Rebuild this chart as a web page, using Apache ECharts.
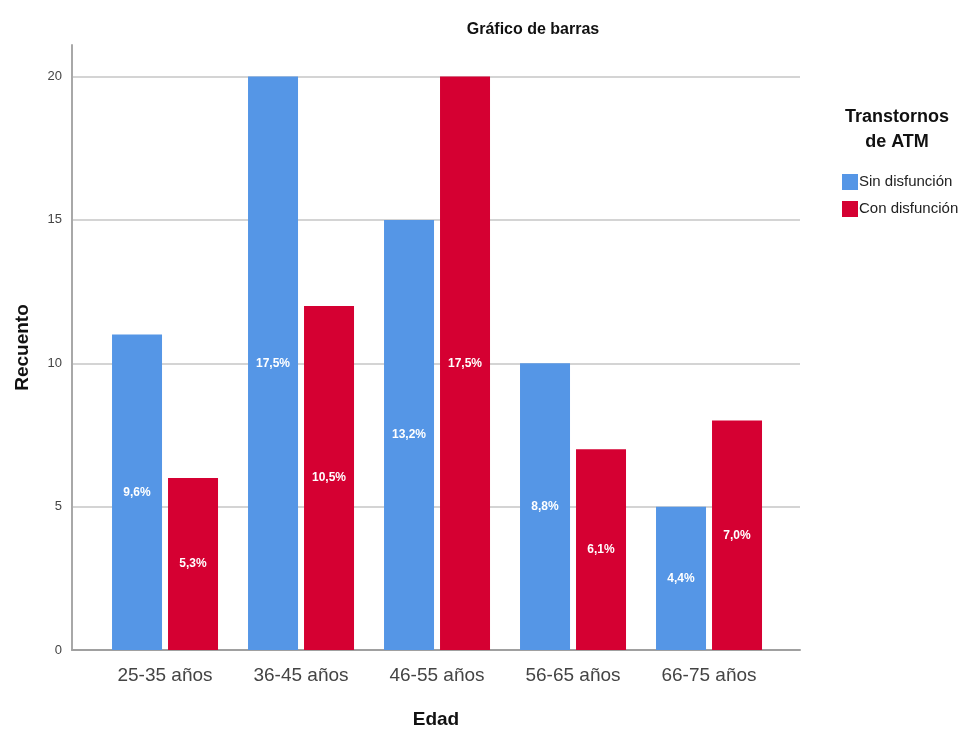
<!DOCTYPE html>
<html>
<head>
<meta charset="utf-8">
<script src="https://cdn.jsdelivr.net/npm/echarts@6/dist/echarts.min.js"></script>
<style>
  html, body { margin: 0; padding: 0; background: #fff; }
  #chart { width: 972px; height: 733px; }
</style>
</head>
<body>
<div id="chart"></div>
<script>
// Datos
const categorias = ['25-35 años', '36-45 años', '46-55 años', '56-65 años', '66-75 años']
const sinDisfuncion = [11, 20, 15, 10, 5]
const conDisfuncion = [6, 12, 20, 7, 8]
const pctSin = ['9,6%', '17,5%', '13,2%', '8,8%', '4,4%']
const pctCon = ['5,3%', '10,5%', '17,5%', '6,1%', '7,0%']
const yTicks = [0, 5, 10, 15, 20]

const fontNarrow = '"Liberation Sans Narrow", "Liberation Sans", Arial, sans-serif'

let chart = echarts.init(document.getElementById('chart'))

const toPoints = (vals) => vals.map((v, i) => [i, v])

const labelStyle = (pcts) => ({
    show: true,
    position: 'inside',
    color: '#fff',
    fontWeight: 'bold',
    fontSize: 12,
    fontFamily: fontNarrow,
    formatter: (p) => pcts[p.dataIndex]
})

let option = {
    animation: false,
    title: [
        {
            text: 'Gráfico de barras',
            left: 528,
            top: 17,
            textAlign: 'center',
            textStyle: { fontSize: 16, fontWeight: 'bold', color: '#111', fontFamily: fontNarrow }
        },
        {
            text: 'Transtornos\nde ATM',
            left: 892,
            top: 100,
            textAlign: 'center',
            textStyle: { fontSize: 18, fontWeight: 'bold', color: '#111', lineHeight: 25, fontFamily: 'Liberation Sans, Arial, sans-serif' }
        }
    ],
    legend: {
        orient: 'vertical',
        left: 837,
        top: 169,
        icon: 'rect',
        itemWidth: 16,
        itemHeight: 16,
        itemGap: 11,
        textStyle: { fontSize: 15, color: '#222', fontFamily: fontNarrow, padding: [0, 0, 0, -4] },
        data: ['Sin disfunción', 'Con disfunción']
    },
    grid: {
        left: 72,
        right: 172,
        top: 45,
        bottom: 83,
        containLabel: false,
        outerBoundsMode: 'none'
    },
    xAxis: {
        type: 'value',
        min: -0.684,
        max: 4.669,
        name: 'Edad',
        nameLocation: 'middle',
        nameGap: 60,
        nameTextStyle: { fontSize: 19, fontWeight: 'bold', color: '#111', fontFamily: 'Liberation Sans, Arial, sans-serif' },
        axisLine: { show: true, lineStyle: { color: '#a0a0a0', width: 2 } },
        axisTick: { show: false },
        splitLine: { show: false },
        axisLabel: {
            customValues: [0, 1, 2, 3, 4],
            formatter: (v) => categorias[Math.round(v)],
            fontSize: 19,
            color: '#444',
            margin: 16,
            fontFamily: fontNarrow
        }
    },
    yAxis: {
        type: 'value',
        min: 0,
        max: 21.1,
        name: 'Recuento',
        nameLocation: 'middle',
        nameGap: 40,
        nameTextStyle: { fontSize: 19, fontWeight: 'bold', color: '#111', fontFamily: 'Liberation Sans, Arial, sans-serif' },
        axisLine: { show: true, onZero: false, lineStyle: { color: '#a8a8a8', width: 2 } },
        axisTick: { show: false, customValues: yTicks },
        axisLabel: {
            customValues: yTicks,
            fontSize: 13,
            color: '#444',
            margin: 10,
            fontFamily: fontNarrow
        },
        splitLine: { show: true, lineStyle: { color: '#d4d4d4', width: 2 } }
    },
    series: [
        {
            name: 'Sin disfunción',
            type: 'bar',
            data: toPoints(sinDisfuncion),
            barWidth: 50,
            barGap: '12%',
            itemStyle: { color: '#5596e6' },
            label: labelStyle(pctSin)
        },
        {
            name: 'Con disfunción',
            type: 'bar',
            data: toPoints(conDisfuncion),
            barWidth: 50,
            barGap: '12%',
            itemStyle: { color: '#d50032' },
            label: labelStyle(pctCon)
        }
    ]
}
chart.setOption(option)
</script>
</body>
</html>
